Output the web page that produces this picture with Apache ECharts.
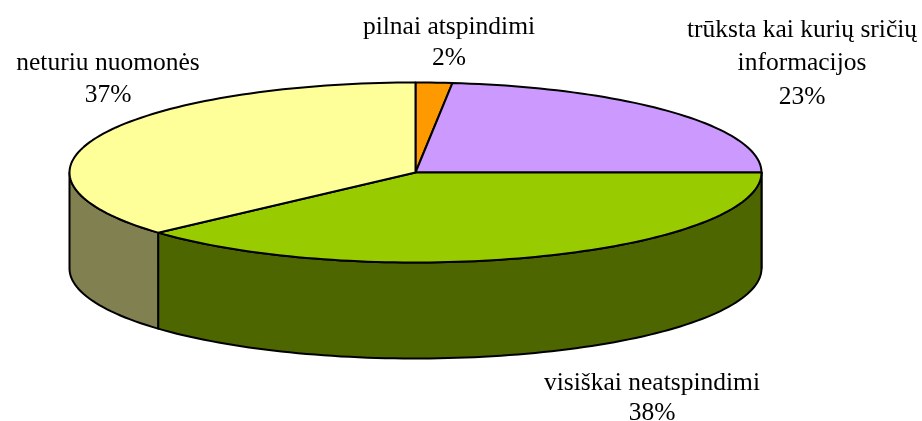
<!DOCTYPE html>
<html>
<head>
<meta charset="utf-8">
<style>html,body{margin:0;padding:0;background:#fff}#c{width:922px;height:421px}</style>
<script src="https://cdn.jsdelivr.net/npm/echarts@6/dist/echarts.min.js"></script>
</head>
<body>
<div id="c"></div>
<script>
const categories = ['pilnai atspindimi', 'trūksta kai kurių sričių\ninformacijos', 'visiškai neatspindimi', 'neturiu nuomonės'];
const shares = [1.7, 23.3, 38.35, 36.65];
const percentLabels = ['2%', '23%', '38%', '37%'];
const topColors = ['#FF9900', '#CC99FF', '#99CC00', '#FFFF99'];
const wallColors = ['#7F4C00', '#664C7F', '#4D6600', '#808050'];

const cx = 415.5, cy = 172.5, rx = 346, ry = 90, depth = 96;
const labelPos = [[449, 27], [802, 30], [652, 383], [108, 63]];
const lineHeights = [31, 33.5, 30, 32];
const total = shares.reduce((a, b) => a + b, 0);

function pt(deg, dy) {
  const r = deg * Math.PI / 180;
  return [cx + rx * Math.sin(r), cy - ry * Math.cos(r) + (dy || 0)];
}
function arc(a, b, dy) {
  const out = [];
  const n = Math.max(2, Math.ceil(Math.abs(b - a) / 1.5));
  for (let i = 0; i <= n; i++) out.push(pt(a + (b - a) * i / n, dy));
  return out;
}

function renderItem(params, api) {
  const i = params.dataIndex;
  let before = 0;
  for (let k = 0; k < i; k++) before += shares[k];
  const a = before / total * 360;
  const b = a + api.value(0) / total * 360;
  const children = [];
  const line = { stroke: '#000', lineWidth: 2, lineJoin: 'round' };

  const wa = Math.max(a, 90), wb = Math.min(b, 270);
  if (wb > wa) {
    const pts = arc(wa, wb, 0).concat(arc(wb, wa, depth));
    children.push({
      type: 'polygon', z2: 1,
      shape: { points: pts },
      style: Object.assign({ fill: wallColors[i] }, line)
    });
  }
  children.push({
    type: 'polygon', z2: 2,
    shape: { points: [[cx, cy]].concat(arc(a, b, 0)) },
    style: Object.assign({ fill: topColors[i] }, line)
  });
  const lines = (categories[i] + '\n' + percentLabels[i]).split('\n');
  lines.forEach((t, j) => {
    children.push({
      type: 'text', z2: 3,
      style: {
        text: t,
        x: labelPos[i][0],
        y: labelPos[i][1] + j * lineHeights[i],
        textAlign: 'center',
        textVerticalAlign: 'middle',
        font: '25.5px "Liberation Serif", serif',
        fill: '#000'
      }
    });
  });
  return { type: 'group', children };
}

const chart = echarts.init(document.getElementById('c'), null, { renderer: 'canvas', width: 922, height: 421 });
chart.setOption({
  animation: false,
  backgroundColor: '#fff',
  series: [{
    type: 'custom',
    coordinateSystem: 'none',
    renderItem,
    silent: true,
    data: shares.map((v, i) => ({ name: categories[i], value: [v] }))
  }]
});
</script>
</body>
</html>
